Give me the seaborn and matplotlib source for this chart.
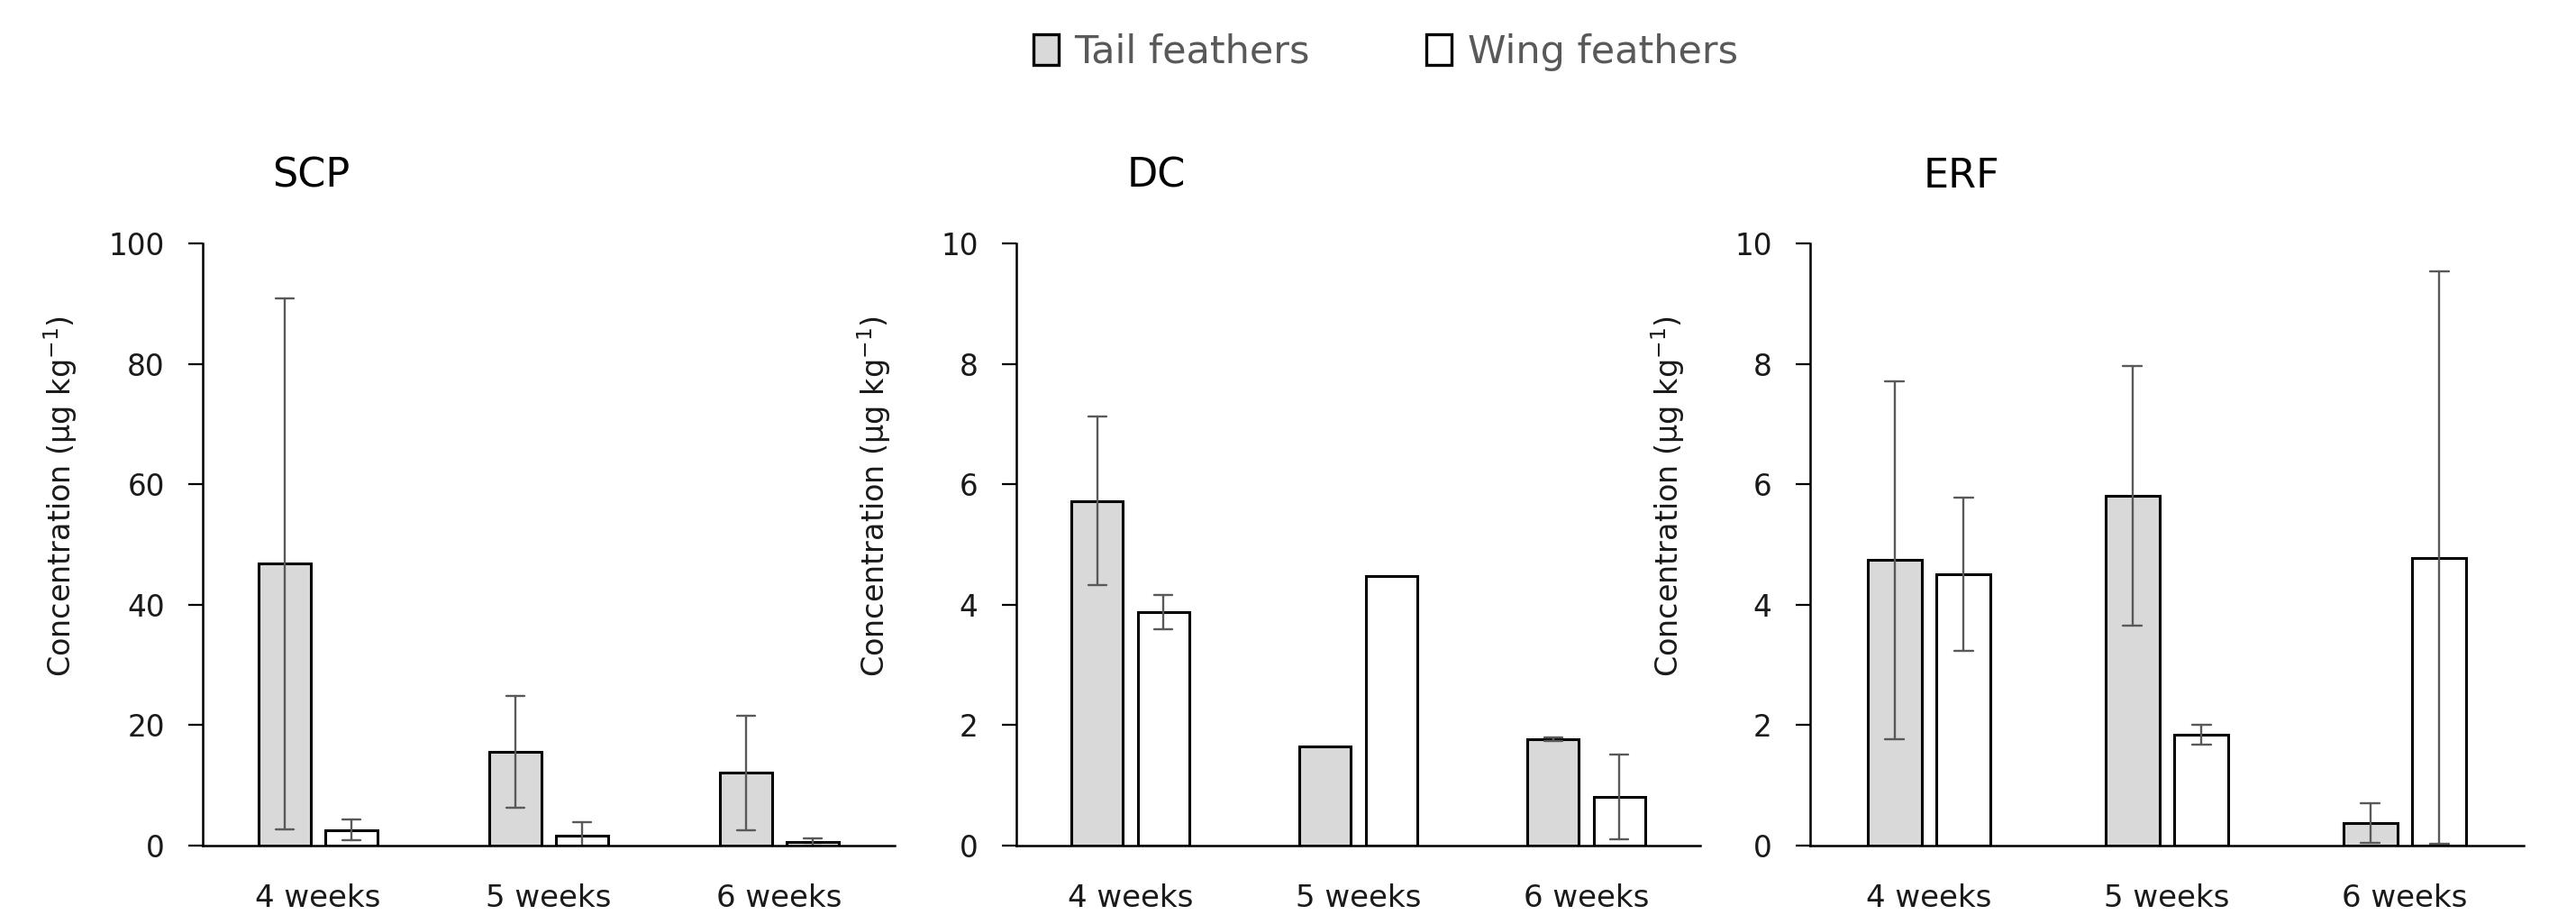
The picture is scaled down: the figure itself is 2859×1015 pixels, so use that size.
import numpy as np
import pandas as pd
import matplotlib
matplotlib.use("Agg")
import matplotlib.pyplot as plt
from matplotlib.patches import Patch
from matplotlib.ticker import FixedLocator
import seaborn as sns

# ---------------- data ----------------
weeks = ["4 weeks", "5 weeks", "6 weeks"]
series = ["Tail feathers", "Wing feathers"]
panels = ["SCP", "DC", "ERF"]

scp_tail = [46.8, 15.6, 12.1]
scp_tail_err = [44.1, 9.3, 9.5]
scp_wing = [2.6, 1.7, 0.6]
scp_wing_err = [1.7, 2.2, 0.6]

dc_tail = [5.72, 1.64, 1.76]
dc_tail_err = [1.40, 0.0, 0.03]
dc_wing = [3.88, 4.47, 0.81]
dc_wing_err = [0.28, 0.0, 0.70]

erf_tail = [4.74, 5.81, 0.38]
erf_tail_err = [2.97, 2.16, 0.33]
erf_wing = [4.51, 1.84, 4.78]
erf_wing_err = [1.27, 0.16, 4.75]

y_max = [100, 10, 10]
y_step = [20, 2, 2]
y_label = r"Concentration (µg kg$^{-1}$)"


def build(tail, tail_err, wing, wing_err):
    rows = []
    for w, m, e in zip(weeks, tail, tail_err):
        rows += [(w, series[0], m - e), (w, series[0], m + e)]
    for w, m, e in zip(weeks, wing, wing_err):
        rows += [(w, series[1], m - e), (w, series[1], m + e)]
    return pd.DataFrame(rows, columns=["week", "type", "value"])


data = {
    "SCP": build(scp_tail, scp_tail_err, scp_wing, scp_wing_err),
    "DC": build(dc_tail, dc_tail_err, dc_wing, dc_wing_err),
    "ERF": build(erf_tail, erf_tail_err, erf_wing, erf_wing_err),
}


def minmax(v):
    v = np.asarray(v)
    if v.max() - v.min() < 1e-9:
        return (np.nan, np.nan)
    return (v.min(), v.max())


# ---------------- style ----------------
sns.set_theme(style="white")
plt.rcParams["font.family"] = ["DejaVu Sans"]

W, H = 2859, 1015
fig = plt.figure(figsize=(W / 100, H / 100), dpi=100)

# axes boxes in pixels: (left, right), top, bottom
boxes = [(225, 993), (1128, 1887), (2009, 2801)]
top_px, bot_px = 270, 938
title_x = [345, 1283, 2177]

palette = {"Tail feathers": "#D9D9D9", "Wing feathers": "#FFFFFF"}
text_col = "#1a1a1a"

for i, name in enumerate(panels):
    l, r = boxes[i]
    ax = fig.add_axes([l / W, (H - bot_px) / H, (r - l) / W, (bot_px - top_px) / H])
    sns.barplot(
        data=data[name], x="week", y="value", hue="type", order=weeks,
        hue_order=series, palette=palette, estimator="mean", errorbar=minmax,
        width=0.58, gap=0.22, capsize=0.16, edgecolor="black", linewidth=2.2,
        err_kws={"color": "#595959", "linewidth": 1.7}, legend=False, ax=ax,
    )
    ax.set_xlim(-0.5, 2.5)
    ax.set_ylim(0, y_max[i])
    ax.set_yticks(np.arange(0, y_max[i] + 0.001, y_step[i]))
    ax.set_yticklabels([f"{int(v)}" for v in np.arange(0, y_max[i] + 0.001, y_step[i])])
    ax.xaxis.set_minor_locator(FixedLocator([-0.5, 0.5, 1.5, 2.5]))
    ax.tick_params(axis="x", which="major", length=0, pad=30, labelsize=24.5, labelcolor=text_col)
    ax.tick_params(axis="x", which="minor", length=9.5, width=1.6, color="black", direction="out")
    ax.tick_params(axis="y", which="major", length=11.5, width=1.6, color="black", direction="out",
                   pad=19, labelsize=23.5, labelcolor=text_col, left=True)
    for s in ["top", "right"]:
        ax.spines[s].set_visible(False)
    for s in ["left", "bottom"]:
        ax.spines[s].set_color("black")
        ax.spines[s].set_linewidth(1.8)
    ax.set_xlabel("")
    ax.set_ylabel(y_label, fontsize=24, color=text_col)
    ax.yaxis.set_label_coords(-137 / (r - l), 0.58)
    ax.text((title_x[i] - l) / (r - l), 1 + (top_px - 195) / (bot_px - top_px), name,
            transform=ax.transAxes, ha="center", va="center", fontsize=32, color="black")

handles = [Patch(facecolor=palette[s], edgecolor="black", linewidth=2.4) for s in series]
fig.legend(handles, series, loc="center", bbox_to_anchor=(1538 / W, 1 - 58 / H), ncol=2,
           frameon=False, fontsize=31, labelcolor="#595959", handlelength=0.65,
           handleheight=0.85, handletextpad=0.42, columnspacing=3.0)

fig.savefig("out.png", dpi=100)
